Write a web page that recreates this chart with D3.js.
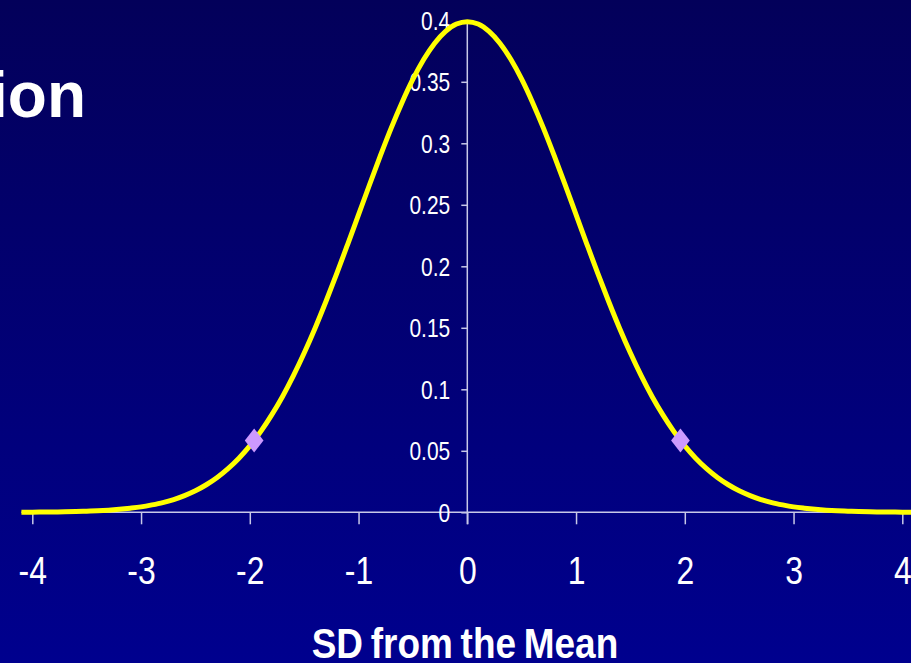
<!DOCTYPE html>
<html>
<head>
<meta charset="utf-8">
<script src="https://cdn.jsdelivr.net/npm/d3@7/dist/d3.min.js"></script>
<style>
html,body{margin:0;padding:0;background:#000070;overflow:hidden;}
svg{display:block;}
</style>
</head>
<body>
<svg id="chart" width="911" height="663"></svg>
<script>
// ---- data ----
const titleText = "ion";
const xAxisTitle = "SD from the Mean";
const xTicks = [-4, -3, -2, -1, 0, 1, 2, 3, 4];
const xTickLabels = ["-4", "-3", "-2", "-1", "0", "1", "2", "3", "4"];
const yTicks = [0, 0.05, 0.1, 0.15, 0.2, 0.25, 0.3, 0.35, 0.4];
const yTickLabels = ["0", "0.05", "0.1", "0.15", "0.2", "0.25", "0.3", "0.35", "0.4"];
const curveX = [-4.1,-4.0,-3.9,-3.8,-3.7,-3.6,-3.5,-3.4,-3.3,-3.2,-3.1,-3.0,-2.9,-2.8,-2.7,-2.6,-2.5,-2.4,-2.3,-2.2,-2.1,-2.0,-1.9,-1.8,-1.7,-1.6,-1.5,-1.4,-1.3,-1.2,-1.1,-1.0,-0.9,-0.8,-0.7,-0.6,-0.5,-0.4,-0.3,-0.2,-0.1,0.0,0.1,0.2,0.3,0.4,0.5,0.6,0.7,0.8,0.9,1.0,1.1,1.2,1.3,1.4,1.5,1.6,1.7,1.8,1.9,2.0,2.1,2.2,2.3,2.4,2.5,2.6,2.7,2.8,2.9,3.0,3.1,3.2,3.3,3.4,3.5,3.6,3.7,3.8,3.9,4.0,4.1];
const curveY = [0.0001,0.0001,0.0002,0.0003,0.0004,0.0006,0.0009,0.0012,0.0017,0.0024,0.0033,0.0044,0.0060,0.0079,0.0104,0.0136,0.0175,0.0224,0.0283,0.0355,0.0440,0.0540,0.0656,0.0790,0.0940,0.1109,0.1295,0.1497,0.1714,0.1942,0.2179,0.2420,0.2661,0.2897,0.3123,0.3332,0.3521,0.3683,0.3814,0.3910,0.3970,0.3989,0.3970,0.3910,0.3814,0.3683,0.3521,0.3332,0.3123,0.2897,0.2661,0.2420,0.2179,0.1942,0.1714,0.1497,0.1295,0.1109,0.0940,0.0790,0.0656,0.0540,0.0440,0.0355,0.0283,0.0224,0.0175,0.0136,0.0104,0.0079,0.0060,0.0044,0.0033,0.0024,0.0017,0.0012,0.0009,0.0006,0.0004,0.0003,0.0002,0.0001,0.0001];
const markerX = [-1.96, 1.96];
const markerY = [0.0584, 0.0584];

// ---- layout ----
const W = 911, H = 663;
const svg = d3.select("#chart");
const font = "'Liberation Sans',Arial,sans-serif";
const squeeze = 0.84; // narrow look of the original lettering

const defs = svg.append("defs");
const grad = defs.append("linearGradient").attr("id","bg").attr("x1",0).attr("y1",0).attr("x2",0).attr("y2",1);
grad.append("stop").attr("offset","0%").attr("stop-color","#03005a");
grad.append("stop").attr("offset","100%").attr("stop-color","#00008e");
svg.append("rect").attr("width",W).attr("height",H).attr("fill","url(#bg)");

const x = d3.scaleLinear().domain([-4, 4]).range([32.3, 902.3]);
const y = d3.scaleLinear().domain([0, 0.4]).range([512.3, 20.3]);

const axisColor = "#c8c8e8";

// x axis line
svg.append("line")
  .attr("x1", x(-4.1)).attr("x2", W)
  .attr("y1", y(0)).attr("y2", y(0))
  .attr("stroke", axisColor).attr("stroke-width", 1.5);

// x axis ticks + labels
const xAxis = d3.axisBottom(x).tickValues(xTicks).tickSize(12).tickSizeOuter(0)
  .tickFormat((d, i) => xTickLabels[i]);
const gx = svg.append("g").attr("transform", `translate(0,${y(0)})`).call(xAxis);
gx.select(".domain").remove();
gx.selectAll(".tick line").attr("stroke", axisColor).attr("stroke-width", 1.5);
gx.selectAll(".tick text").attr("fill", "#ffffff").attr("font-family", font)
  .attr("font-size", 38).attr("y", 71.5).attr("dy", 0)
  .attr("transform", `scale(${squeeze},1)`);

// y axis
const yAxis = d3.axisLeft(y).tickValues(yTicks).tickSize(6).tickSizeOuter(0)
  .tickFormat((d, i) => yTickLabels[i]);
const gy = svg.append("g").attr("transform", `translate(${x(0)},0)`).call(yAxis);
gy.select(".domain").remove();
gy.selectAll(".tick line").attr("stroke", axisColor).attr("stroke-width", 1.5);
gy.selectAll(".tick text").attr("fill", "#ffffff").attr("font-family", font)
  .attr("font-size", 25).attr("dy", "0.36em")
  .attr("x", -17 / squeeze).attr("transform", `scale(${squeeze},1)`);
svg.append("line")
  .attr("x1", x(0)).attr("x2", x(0))
  .attr("y1", y(0.4)).attr("y2", y(0) + 12)
  .attr("stroke", axisColor).attr("stroke-width", 1.5);

// curve
const pts = curveX.map((d, i) => [d, curveY[i]]);
const line = d3.line().x(d => x(d[0])).y(d => y(d[1])).curve(d3.curveMonotoneX);
svg.append("path").datum(pts).attr("d", line)
  .attr("fill", "none").attr("stroke", "#ffff00").attr("stroke-width", 5)
  .attr("stroke-linejoin", "round");

// markers
const diamond = d3.symbol().type(d3.symbolSquare).size(260);
svg.selectAll(".mk").data(markerX.map((d, i) => [d, markerY[i]])).enter()
  .append("path").attr("class", "mk")
  .attr("d", diamond())
  .attr("transform", d => `translate(${x(d[0])},${y(d[1])}) scale(0.82,1.05) rotate(45)`)
  .attr("fill", "#cc99ff");

// title (partially visible, as in the original slide)
svg.append("text").attr("x", 86).attr("y", 117).attr("text-anchor", "end")
  .attr("fill", "#ffffff").attr("font-family", font)
  .attr("font-weight", "bold").attr("font-size", 64).text(titleText);

// x axis title
const tSqueeze = 0.86;
svg.append("text").attr("x", 465 / tSqueeze).attr("y", 658).attr("text-anchor", "middle")
  .attr("transform", `scale(${tSqueeze},1)`)
  .attr("fill", "#ffffff").attr("font-family", font)
  .attr("font-weight", "bold").attr("font-size", 43).attr("word-spacing", "-3")
  .text(xAxisTitle);
</script>
</body>
</html>
